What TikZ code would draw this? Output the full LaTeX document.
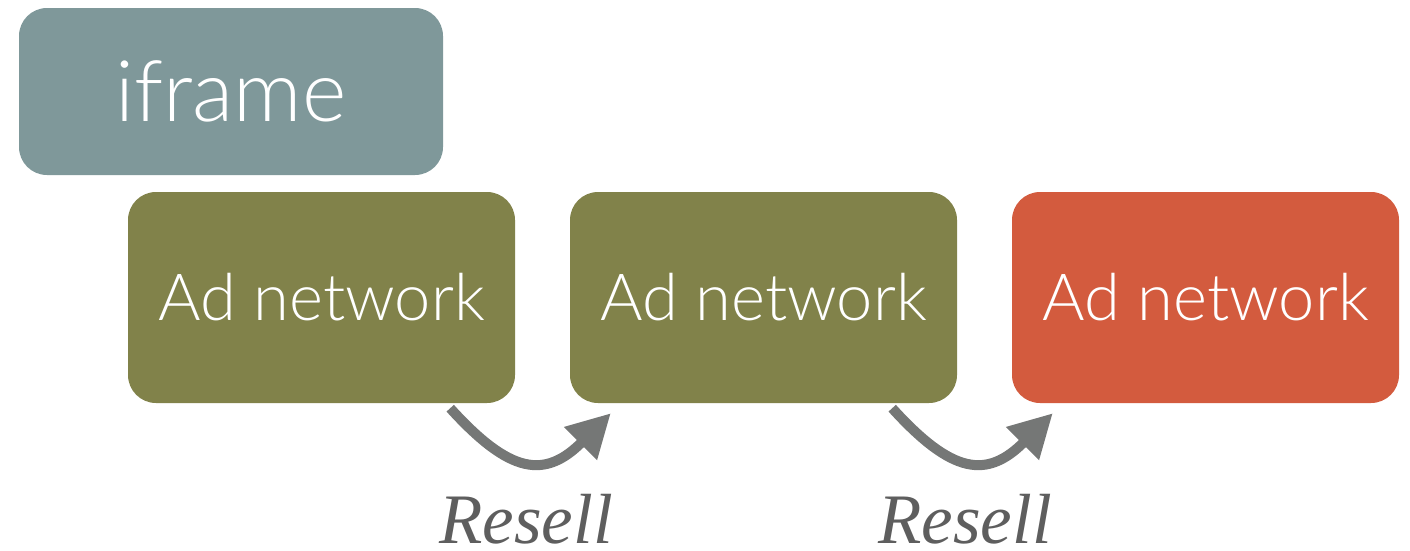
\documentclass[tikz,border=0pt]{standalone}
\usepackage{fontspec}
\setmainfont{Lato}[UprightFont=* Light]
\newfontfamily\resellfont{Liberation Serif}
\usetikzlibrary{arrows.meta,calc}
\definecolor{frameblue}{HTML}{7F989A}
\definecolor{netolive}{HTML}{81824A}
\definecolor{netred}{HTML}{D35B3E}
\definecolor{arrowgrey}{HTML}{757776}
\definecolor{labelgrey}{HTML}{5E5E5E}
\begin{document}
\begin{tikzpicture}[x=1pt,y=-1pt,
  box/.style={rounded corners=28pt, inner sep=0pt, text=white},
  netbox/.style={box, minimum width=387pt, minimum height=211pt,
    font=\fontsize{65}{70}\selectfont},
  framebox/.style={box, fill=frameblue, minimum width=424pt, minimum height=167pt,
    font=\fontsize{85}{90}\selectfont},
  resell/.style={line width=10pt, draw=arrowgrey,
    -{Triangle[length=43pt,width=44pt]}},
  resellnote/.style={text=labelgrey, inner sep=0pt, anchor=base,
    font=\resellfont\itshape\fontsize{71}{76}\selectfont}]
\useasboundingbox (0,0) rectangle (1410,550);

\node[framebox] (frame) at (231,91.5) {iframe};

\node[netbox, fill=netolive] (ad1) at (321.5,297.5) {Ad network};
\node[netbox, fill=netolive] (ad2) at (763.5,297.5) {Ad network};
\node[netbox, fill=netred]   (ad3) at (1205.5,297.5) {Ad network};

% resale hops between neighbouring networks
\coordinate (s1) at ($(ad1.south east)+(-65,5)$);
\coordinate (t1) at ($(ad2.south west)+(41,10)$);
\coordinate (s2) at ($(ad2.south east)+(-65,5)$);
\coordinate (t2) at ($(ad3.south west)+(41,10)$);
\draw[resell] (s1) .. controls ($(s1)+(60,66)$) and ($(t1)+(-66,66)$) .. (t1);
\draw[resell] (s2) .. controls ($(s2)+(60,66)$) and ($(t2)+(-66,66)$) .. (t2);

\node[resellnote] (lab1) at (526,543) {Resell};
\node[resellnote] (lab2) at (965,543) {Resell};
\end{tikzpicture}
\end{document}
